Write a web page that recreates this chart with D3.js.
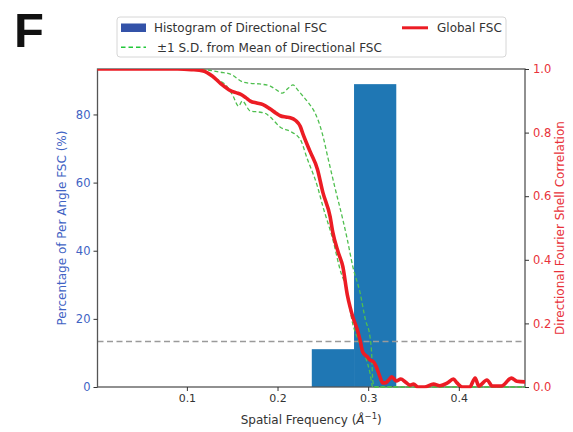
<!DOCTYPE html>
<html>
<head>
<meta charset="utf-8">
<script src="https://cdn.jsdelivr.net/npm/d3@7"></script>
<style>
  html, body { margin: 0; padding: 0; background: #fff; }
  svg text { font-family: "DejaVu Sans", sans-serif; }
</style>
</head>
<body>
<svg id="chart" width="573" height="432"></svg>
<script>
// ---- data ----
const histEdges = [0.2378, 0.2844, 0.3310];
const histPercent = [11.1, 88.9];

const globalFreq = [0.0014,0.05,0.09,0.105,0.118,0.128,0.137,0.148,0.155,0.159,0.165,0.170,0.177,0.184,0.192,0.198,0.203,0.209,0.214,0.220,0.225,0.228,0.236,0.244,0.250,0.258,0.261,0.267,0.272,0.277,0.280,0.283,0.288,0.291,0.294,0.299,0.302,0.306,0.309,0.313,0.316,0.319,0.322,0.326,0.331,0.336,0.341,0.346,0.350,0.355,0.362,0.372,0.379,0.387,0.394,0.398,0.404,0.412,0.418,0.422,0.431,0.437,0.447,0.458,0.464,0.473];
const globalFSC  = [1.0,1.0,1.0,0.998,0.994,0.978,0.955,0.932,0.925,0.921,0.910,0.899,0.893,0.888,0.874,0.862,0.853,0.849,0.847,0.838,0.820,0.796,0.740,0.685,0.612,0.536,0.486,0.423,0.379,0.290,0.252,0.221,0.180,0.148,0.110,0.095,0.085,0.079,0.063,0.032,0.013,0.013,0.020,0.032,0.019,0.025,0.016,0.006,0.009,0.0,0.0,0.009,0.004,0.012,0.025,0.013,0.0,0.0,0.028,0.003,0.022,0.003,0.003,0.028,0.018,0.016];

const upperFreq = [0.0014,0.11,0.12,0.137,0.148,0.162,0.170,0.180,0.192,0.200,0.205,0.212,0.217,0.222,0.228,0.235,0.241,0.249,0.256,0.263,0.272,0.277,0.283,0.291,0.297,0.302,0.304,0.305,0.307,0.473];
const upperFSC  = [1.0,1.0,0.998,0.990,0.984,0.959,0.955,0.953,0.946,0.932,0.924,0.940,0.950,0.935,0.915,0.890,0.864,0.801,0.716,0.631,0.527,0.464,0.379,0.297,0.211,0.158,0.095,0.022,0.0,0.0];

const lowerFreq = [0.0014,0.11,0.133,0.144,0.151,0.157,0.161,0.170,0.181,0.187,0.192,0.203,0.214,0.225,0.233,0.244,0.250,0.261,0.269,0.277,0.282,0.289,0.297,0.302,0.305,0.473];
const lowerFSC  = [1.0,0.999,0.968,0.946,0.915,0.883,0.899,0.868,0.864,0.860,0.849,0.817,0.804,0.779,0.716,0.631,0.568,0.464,0.369,0.297,0.211,0.148,0.095,0.044,0.0,0.0];

const threshold = 0.143;
const xTicks = [0.1, 0.2, 0.3, 0.4];
const leftTicks = [0, 20, 40, 60, 80];
const rightTicks = [0.0, 0.2, 0.4, 0.6, 0.8, 1.0];

// ---- layout ----
const L = 97.5, R = 525, T = 69, B = 387;
const blue = "#3f63c4", red = "#e8323a";
const svg = d3.select("#chart");

const x = d3.scaleLinear().domain([0.0014, 0.473]).range([L, R]);
const yL = d3.scaleLinear().domain([0, d3.max(histPercent) * 1.05]).range([B, T]);
const yR = d3.scaleLinear().domain([0, 1]).range([B, T]);

const defs = svg.append("defs");
defs.append("clipPath").attr("id", "clip")
  .append("rect").attr("x", L).attr("y", T).attr("width", R - L).attr("height", B - T);
defs.append("clipPath").attr("id", "clip2")
  .append("rect").attr("x", L).attr("y", T).attr("width", R - L).attr("height", B - T + 1.2);

const plot = svg.append("g").attr("clip-path", "url(#clip)");

// histogram
plot.selectAll("rect.bar").data(histPercent).enter().append("rect")
  .attr("class", "bar")
  .attr("x", (d, i) => x(histEdges[i]))
  .attr("width", (d, i) => x(histEdges[i + 1]) - x(histEdges[i]))
  .attr("y", d => yL(d))
  .attr("height", d => yL(0) - yL(d))
  .attr("fill", "#1f77b4");

// threshold line
plot.append("line")
  .attr("x1", L).attr("x2", R)
  .attr("y1", yR(threshold)).attr("y2", yR(threshold))
  .attr("stroke", "#9a9a9a").attr("stroke-width", 1.5)
  .attr("stroke-dasharray", "6,3.5");

// frame
svg.append("rect").attr("x", L).attr("y", T).attr("width", R - L).attr("height", B - T)
  .attr("fill", "none").attr("stroke", "#555").attr("stroke-width", 1.3);

const line = d3.line().x(d => x(d[0])).y(d => yR(d[1])).curve(d3.curveMonotoneX);
const plot2 = svg.append("g").attr("clip-path", "url(#clip2)");

[[upperFreq, upperFSC], [lowerFreq, lowerFSC]].forEach(([f, v], k) => {
  plot2.append("path")
    .attr("d", line(d3.zip(f, v)))
    .attr("fill", "none")
    .attr("stroke", "#4fbf4f")
    .attr("stroke-width", 1.3)
    .attr("stroke-dasharray", "4,2.5")
    .attr("stroke-dashoffset", k * 3.2);
});

plot2.append("path")
  .attr("d", line(d3.zip(globalFreq, globalFSC)))
  .attr("fill", "none")
  .attr("stroke", "#ec1c24")
  .attr("stroke-width", 3.6)
  .attr("stroke-linejoin", "round")
  .attr("stroke-linecap", "round");

// axes
const xAxis = svg.append("g").attr("transform", `translate(0,${B})`)
  .call(d3.axisBottom(x).tickValues(xTicks).tickSize(4).tickPadding(3).tickFormat(d3.format(".1f")));
xAxis.selectAll("text").attr("font-size", 11).attr("fill", "#333");

const leftAxis = svg.append("g").attr("transform", `translate(${L},0)`)
  .call(d3.axisLeft(yL).tickValues(leftTicks).tickSize(4).tickPadding(3));
leftAxis.selectAll("text").attr("font-size", 11.5).attr("fill", blue);

const rightAxis = svg.append("g").attr("transform", `translate(${R},0)`)
  .call(d3.axisRight(yR).tickValues(rightTicks).tickSize(4).tickPadding(4).tickFormat(d3.format(".1f")));
rightAxis.selectAll("text").attr("font-size", 11.5).attr("fill", red);

[xAxis, leftAxis, rightAxis].forEach(a => {
  a.select(".domain").remove();
  a.selectAll("line").attr("stroke", "#333").attr("stroke-width", 1);
  a.attr("font-family", null);
});

// axis labels
const xl = svg.append("text").attr("x", (L + R) / 2).attr("y", 424)
  .attr("text-anchor", "middle").attr("font-size", 12).attr("fill", "#333");
xl.append("tspan").text("Spatial Frequency (");
xl.append("tspan").attr("font-style", "italic").text("Å");
xl.append("tspan").attr("font-size", 8.5).attr("dy", -5).text("−1");
xl.append("tspan").attr("dy", 5).text(")");

svg.append("text").attr("transform", `translate(66,${(T + B) / 2}) rotate(-90)`)
  .attr("text-anchor", "middle").attr("font-size", 12).attr("fill", blue)
  .text("Percentage of Per Angle FSC (%)");

svg.append("text").attr("transform", `translate(564,${(T + B) / 2}) rotate(-90)`)
  .attr("text-anchor", "middle").attr("font-size", 12).attr("fill", red)
  .text("Directional Fourier Shell Correlation");

// panel letter
svg.append("text").attr("x", 14).attr("y", 47)
  .style("font-family", "Liberation Sans, Arial, sans-serif")
  .attr("font-weight", "bold").attr("font-size", 49).attr("fill", "#111").text("F");

// legend
const lg = svg.append("g");
lg.append("rect").attr("x", 117).attr("y", 17).attr("width", 389).attr("height", 40)
  .attr("rx", 3).attr("fill", "#fff").attr("fill-opacity", 0.9)
  .attr("stroke", "#d6d6d6").attr("stroke-width", 1);
lg.append("rect").attr("x", 121).attr("y", 23.5).attr("width", 25).attr("height", 8.5).attr("fill", "#3352a8");
lg.append("text").attr("x", 154).attr("y", 32).attr("font-size", 12).attr("fill", "#333").text("Histogram of Directional FSC");
lg.append("line").attr("x1", 402).attr("x2", 428).attr("y1", 27.8).attr("y2", 27.8)
  .attr("stroke", "#ec1c24").attr("stroke-width", 3);
lg.append("text").attr("x", 437).attr("y", 32).attr("font-size", 12).attr("fill", "#333").text("Global FSC");
lg.append("line").attr("x1", 121).attr("x2", 146).attr("y1", 47.3).attr("y2", 47.3)
  .attr("stroke", "#22c83a").attr("stroke-width", 1.5).attr("stroke-dasharray", "4.5,3");
lg.append("text").attr("x", 157).attr("y", 51.5).attr("font-size", 12).attr("fill", "#333").text("±1 S.D. from Mean of Directional FSC");
</script>
</body>
</html>
